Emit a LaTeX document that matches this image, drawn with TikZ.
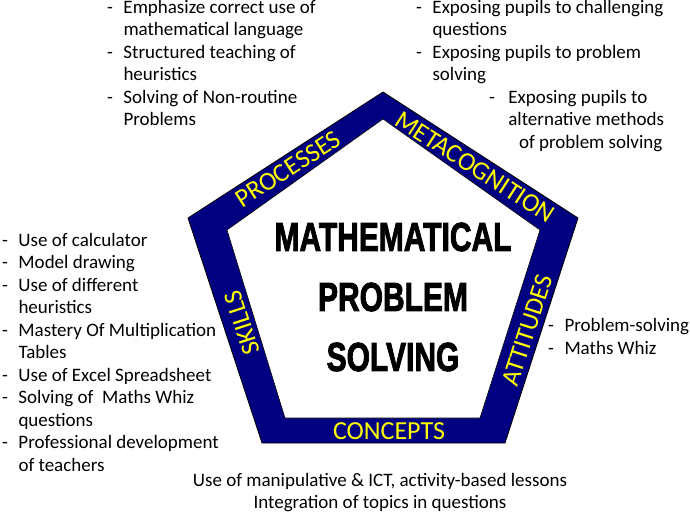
\documentclass[tikz,border=0pt]{standalone}
\usepackage{fontspec}
\setmainfont{Carlito}
\newfontfamily\titlefont[FakeBold=2.5]{Liberation Sans Bold}
\usepackage{graphicx}
\definecolor{bandblue}{RGB}{0,0,128}
\definecolor{labelyellow}{RGB}{255,255,0}
\newcommand\hyph[2][16.5pt]{\makebox[#1][l]{-}#2}
\newcommand\cont[2][16.5pt]{\hspace*{#1}#2}
\tikzstyle{every node}=[inner sep=0pt,outer sep=0pt]
\tikzstyle{itemlist}=[anchor=base west,align=left,font=\fontsize{19}{22.5}\selectfont]
\tikzstyle{band}=[fill=bandblue,draw=black,line width=0.8pt]
\tikzstyle{sidelabel}=[text=labelyellow,font=\fontsize{26}{26}\selectfont]

\begin{document}
\begin{tikzpicture}[x=1pt,y=-1pt]
  \useasboundingbox (0,0) rectangle (690,513);
  % pentagon
  \draw[band] (383,92) -- (578,218) -- (505,443) -- (262,443) -- (188,218) -- cycle;
  \draw[fill=white,draw=black,line width=0.6pt] (383,119) -- (540,230) -- (480,418) -- (285,418) -- (227,230) -- cycle;
  \node[sidelabel,rotate=32.8] (processes) at (288,169) {PROCESSES};
  \node[sidelabel,rotate=-32.8] (metacog) at (475,167) {METACOGNITION};
  \node[sidelabel,rotate=108] (skills) at (242,323) {SKILLS};
  \node[sidelabel,rotate=72] (attitudes) at (527,330) {ATTITUDES};
  \node[sidelabel] (concepts) at (389,431) {CONCEPTS};
  \node[align=center,font=\titlefont\fontsize{40.5}{60}\selectfont] (title) at (393,297)
    {\scalebox{0.74}[1]{MATHEMATICAL}\\ \scalebox{0.74}[1]{PROBLEM}\\ \scalebox{0.74}[1]{SOLVING}};
  % lists round the pentagon (base = last line)
  \node[itemlist] (processitems) at (107,126)
    {\hyph{Emphasize correct use of}\\ \cont{mathematical language}\\
     \hyph{Structured teaching of}\\ \cont{heuristics}\\
     \hyph{Solving of Non-routine}\\ \cont{Problems}};
  \node[itemlist] (metaitems) at (416,81)
    {\hyph{Exposing pupils to challenging}\\ \cont{questions}\\
     \hyph{Exposing pupils to problem}\\ \cont{solving}};
  \node[itemlist] (metaitemsb) at (489,148.5)
    {\hyph[19.3pt]{Exposing pupils to}\\ \cont[19.3pt]{alternative methods}\\
     \cont[30pt]{of problem solving}};
  \node[itemlist] (skillitems) at (2,471)
    {\hyph{Use of calculator}\\ \hyph{Model drawing}\\
     \hyph{Use of different}\\ \cont{heuristics}\\
     \hyph{Mastery Of Multiplication}\\ \cont{Tables}\\
     \hyph{Use of Excel Spreadsheet}\\
     \hyph{Solving of \ Maths Whiz}\\ \cont{questions}\\
     \hyph{Professional development}\\ \cont{of teachers}};
  \node[itemlist] (attitudeitems) at (548,354)
    {\hyph{Problem-solving}\\ \hyph{Maths Whiz}};
  \node[anchor=base,align=center,font=\fontsize{19}{21.5}\selectfont] (conceptitems) at (380,508)
    {Use of manipulative \& ICT, activity-based lessons\\ Integration of topics in questions};
\end{tikzpicture}
\end{document}
